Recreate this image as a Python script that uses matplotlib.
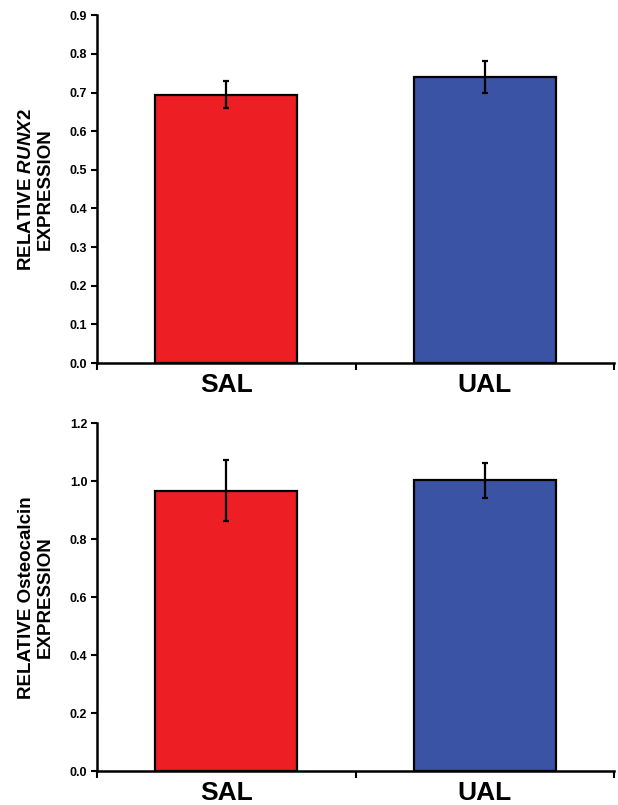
import numpy as np
import matplotlib.pyplot as plt

plt.rcParams['font.family'] = ['Liberation Sans', 'DejaVu Sans']
plt.rcParams['font.weight'] = 'bold'
plt.rcParams['mathtext.fontset'] = 'custom'
plt.rcParams['mathtext.it'] = 'Liberation Sans:italic:bold'
plt.rcParams['mathtext.rm'] = 'Liberation Sans:bold'

groups = ["SAL", "UAL"]
colors = ["#ED1F24", "#3A53A4"]

runx2_mean = [0.695, 0.740]
runx2_err = [0.036, 0.042]

ocn_mean = [0.968, 1.003]
ocn_err = [0.106, 0.062]

fig = plt.figure(figsize=(6.18, 8.05), dpi=100)
ax1 = fig.add_axes([0.157, 0.549, 0.8365, 0.432])
ax2 = fig.add_axes([0.157, 0.0422, 0.8365, 0.4318])

panels = [
    (ax1, runx2_mean, runx2_err, 0.9, np.arange(0, 0.91, 0.1),
     "RELATIVE $\\mathit{RUNX2}$\nEXPRESSION"),
    (ax2, ocn_mean, ocn_err, 1.2, np.arange(0, 1.21, 0.2),
     "RELATIVE Osteocalcin\nEXPRESSION"),
]

x = np.arange(len(groups))
for ax, mean, err, ymax, yticks, ylab in panels:
    ax.bar(x, mean, width=0.55, color=colors, edgecolor="black",
           linewidth=1.6, zorder=2)
    ax.errorbar(x, mean, yerr=err, fmt="none", ecolor="black",
                elinewidth=1.6, capsize=2.5, capthick=1.6, zorder=3)
    ax.set_xlim(-0.5, 1.5)
    ax.set_ylim(0, ymax)
    ax.set_yticks(yticks)
    ax.set_yticklabels(["%.1f" % v for v in yticks], fontsize=9, fontweight="bold")
    ax.set_xticks(x)
    ax.set_xticklabels(groups, fontsize=19, fontweight="bold")
    ax.set_xticks([-0.5, 0.5, 1.5], minor=True)
    ax.tick_params(axis="x", which="major", length=0, pad=7)
    ax.tick_params(axis="x", which="minor", length=5, width=1.5, direction="out")
    ax.tick_params(axis="y", length=4, width=1.5, direction="out", pad=3)
    for s in ["top", "right"]:
        ax.spines[s].set_visible(False)
    for s in ["left", "bottom"]:
        ax.spines[s].set_linewidth(1.8)
    ax.set_ylabel(ylab, fontsize=13.5, fontweight="bold", va="center",
                  linespacing=1.1)
    ax.yaxis.set_label_coords(-0.118, 0.5)

fig.savefig("out.png", dpi=100)
